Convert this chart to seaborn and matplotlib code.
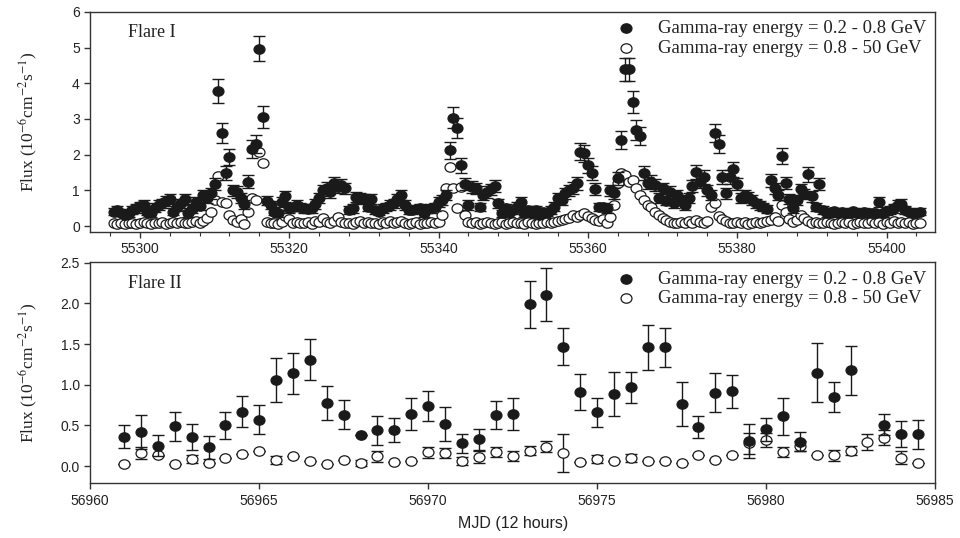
import numpy as np
import pandas as pd
import matplotlib
matplotlib.use("Agg")
import matplotlib.pyplot as plt
import seaborn as sns
from matplotlib.ticker import MultipleLocator
from matplotlib.path import Path
from matplotlib.markers import MarkerStyle

sns.set_theme(style="white")
plt.rcParams["font.family"] = ["Liberation Sans", "DejaVu Sans"]
plt.rcParams["mathtext.fontset"] = "stix"

# ---------------- data ----------------
# Flare I: 12-hour bins starting at MJD 55296.5
flare1_start = 55296.5
bin_width = 0.5
flare1_soft = [
    0.40, 0.45, 0.38, 0.31, 0.36, 0.45, 0.50, 0.56, 0.59, 0.40,
    0.36, 0.52, 0.59, 0.64, 0.70, 0.75, 0.40, 0.54, 0.64, 0.75,
    0.36, 0.47, 0.68, 0.56, 0.87, 0.78, 0.92, 1.18, 3.78, 2.61,
    1.49, 1.94, 1.00, 0.96, 0.80, 0.61, 1.24, 2.15, 2.30, 4.96,
    3.06, 0.71, 0.59, 0.40, 0.36, 0.68, 0.84, 0.50, 0.54, 0.59,
    0.54, 0.50, 0.47, 0.50, 0.62, 0.80, 1.00, 1.06, 0.96, 1.21,
    1.10, 1.15, 1.06, 0.45, 0.50, 0.82, 0.78, 0.75, 0.54, 0.75,
    0.45, 0.40, 0.50, 0.54, 0.59, 0.64, 0.75, 0.87, 0.59, 0.45,
    0.45, 0.48, 0.50, 0.36, 0.47, 0.50, 0.54, 0.68, 0.73, 0.87,
    2.13, 3.04, 2.76, 1.71, 1.19, 0.59, 1.10, 1.06, 0.54, 0.87,
    0.96, 1.03, 1.12, 0.64, 0.36, 0.50, 0.36, 0.45, 0.55, 0.68,
    0.36, 0.45, 0.36, 0.45, 0.31, 0.40, 0.38, 0.45, 0.55, 0.80,
    0.73, 0.92, 1.00, 1.08, 1.20, 2.08, 2.04, 1.71, 1.48, 1.04,
    0.54, 0.54, 0.50, 1.00, 0.92, 1.34, 2.41, 4.39, 4.39, 3.48,
    2.69, 2.52, 1.48, 1.21, 1.24, 1.15, 0.78, 1.06, 0.71, 0.96,
    0.64, 0.87, 0.73, 0.59, 0.80, 1.12, 1.52, 1.24, 1.38, 1.00,
    0.87, 2.62, 2.30, 1.38, 0.92, 1.38, 1.59, 1.18, 0.78, 0.87,
    0.82, 0.73, 0.64, 0.58, 0.54, 0.47, 1.29, 1.06, 0.87, 1.97,
    1.21, 0.75, 0.50, 0.73, 1.03, 0.90, 1.45, 0.84, 0.54, 1.18,
    0.45, 0.36, 0.40, 0.42, 0.36, 0.40, 0.38, 0.36, 0.42, 0.38,
    0.36, 0.40, 0.36, 0.38, 0.36, 0.68, 0.36, 0.42, 0.45, 0.50,
    0.59, 0.62, 0.45, 0.40, 0.36, 0.38, 0.40,
]
flare1_soft_err = [
    0.10, 0.11, 0.10, 0.09, 0.10, 0.11, 0.12, 0.13, 0.13, 0.10,
    0.10, 0.12, 0.13, 0.13, 0.14, 0.14, 0.10, 0.12, 0.13, 0.14,
    0.10, 0.11, 0.13, 0.12, 0.15, 0.14, 0.16, 0.18, 0.34, 0.27,
    0.20, 0.23, 0.16, 0.16, 0.14, 0.13, 0.18, 0.25, 0.26, 0.35,
    0.30, 0.13, 0.12, 0.10, 0.10, 0.13, 0.15, 0.12, 0.12, 0.13,
    0.12, 0.12, 0.11, 0.12, 0.13, 0.14, 0.16, 0.17, 0.16, 0.18,
    0.17, 0.17, 0.16, 0.11, 0.12, 0.15, 0.14, 0.14, 0.12, 0.14,
    0.11, 0.10, 0.12, 0.12, 0.13, 0.13, 0.14, 0.15, 0.13, 0.11,
    0.11, 0.11, 0.12, 0.10, 0.11, 0.12, 0.12, 0.13, 0.14, 0.15,
    0.24, 0.30, 0.28, 0.21, 0.17, 0.13, 0.17, 0.16, 0.12, 0.15,
    0.16, 0.16, 0.17, 0.13, 0.10, 0.12, 0.10, 0.11, 0.12, 0.13,
    0.10, 0.11, 0.10, 0.11, 0.09, 0.10, 0.10, 0.11, 0.12, 0.14,
    0.14, 0.16, 0.16, 0.17, 0.18, 0.24, 0.24, 0.21, 0.20, 0.16,
    0.12, 0.12, 0.12, 0.16, 0.16, 0.19, 0.26, 0.33, 0.33, 0.30,
    0.27, 0.26, 0.20, 0.18, 0.18, 0.17, 0.14, 0.16, 0.13, 0.16,
    0.13, 0.15, 0.14, 0.13, 0.14, 0.17, 0.20, 0.18, 0.19, 0.16,
    0.15, 0.25, 0.25, 0.19, 0.16, 0.19, 0.20, 0.18, 0.14, 0.15,
    0.15, 0.14, 0.13, 0.12, 0.12, 0.11, 0.18, 0.16, 0.15, 0.22,
    0.18, 0.14, 0.12, 0.14, 0.16, 0.15, 0.20, 0.15, 0.12, 0.18,
    0.11, 0.10, 0.10, 0.10, 0.10, 0.10, 0.10, 0.10, 0.10, 0.10,
    0.10, 0.10, 0.10, 0.10, 0.10, 0.13, 0.10, 0.10, 0.11, 0.12,
    0.13, 0.13, 0.11, 0.10, 0.10, 0.10, 0.10,
]
flare1_hard = [
    0.08, 0.06, 0.09, 0.07, 0.08, 0.10, 0.06, 0.08, 0.12, 0.09,
    0.07, 0.10, 0.08, 0.12, 0.06, 0.09, 0.11, 0.08, 0.13, 0.10,
    0.08, 0.11, 0.15, 0.10, 0.15, 0.22, 0.40, 0.73, 1.41, 0.68,
    0.64, 0.31, 0.17, 0.12, 0.21, 0.07, 0.40, 0.78, 0.73, 2.08,
    1.76, 0.12, 0.08, 0.10, 0.07, 0.12, 0.28, 0.21, 0.09, 0.12,
    0.08, 0.10, 0.12, 0.07, 0.15, 0.11, 0.24, 0.13, 0.09, 0.14,
    0.26, 0.12, 0.08, 0.10, 0.06, 0.12, 0.15, 0.09, 0.11, 0.08,
    0.10, 0.07, 0.12, 0.09, 0.14, 0.08, 0.11, 0.15, 0.10, 0.07,
    0.09, 0.12, 0.06, 0.10, 0.08, 0.13, 0.09, 0.12, 0.30, 1.06,
    1.66, 1.06, 0.50, 1.10, 0.31, 0.12, 0.08, 0.11, 0.07, 0.10,
    0.12, 0.08, 0.06, 0.10, 0.13, 0.07, 0.09, 0.12, 0.08, 0.10,
    0.07, 0.11, 0.09, 0.06, 0.10, 0.08, 0.12, 0.09, 0.11, 0.14,
    0.16, 0.20, 0.24, 0.30, 0.26, 0.32, 0.36, 0.28, 0.24, 0.18,
    0.15, 0.20, 0.10, 0.25, 0.60, 1.20, 1.48, 1.43, 1.24, 1.30,
    1.06, 0.87, 0.73, 0.60, 0.54, 0.40, 0.30, 0.22, 0.18, 0.12,
    0.10, 0.08, 0.12, 0.09, 0.14, 0.10, 0.16, 0.12, 0.10, 0.15,
    0.54, 0.65, 0.28, 0.20, 0.15, 0.10, 0.08, 0.12, 0.09, 0.11,
    0.07, 0.10, 0.13, 0.08, 0.12, 0.15, 0.18, 0.25, 0.15, 0.59,
    0.40, 0.20, 0.12, 0.18, 0.31, 0.22, 0.15, 0.08, 0.12, 0.10,
    0.08, 0.12, 0.09, 0.06, 0.10, 0.13, 0.08, 0.11, 0.07, 0.10,
    0.12, 0.08, 0.10, 0.14, 0.09, 0.11, 0.07, 0.12, 0.10, 0.15,
    0.09, 0.13, 0.08, 0.11, 0.07, 0.10, 0.08,
]

# Flare II: 12-hour bins starting at MJD 56961.0
flare2_start = 56961.0
flare2_soft = [
    0.36, 0.42, 0.25, 0.49, 0.36, 0.23, 0.50, 0.67, 0.57, 1.06,
    1.14, 1.31, 0.78, 0.63, 0.38, 0.44, 0.44, 0.64, 0.74, 0.52,
    0.28, 0.33, 0.63, 0.64, 1.99, 2.11, 1.47, 0.91, 0.66, 0.89,
    0.97, 1.46, 1.46, 0.76, 0.48, 0.90, 0.92, 0.31, 0.45, 0.61,
    0.30, 1.15, 0.85, 1.18, np.nan, 0.51, 0.40, 0.39,
]
flare2_soft_err = [
    0.14, 0.21, 0.13, 0.18, 0.16, 0.14, 0.17, 0.19, 0.18, 0.27,
    0.25, 0.25, 0.21, 0.18, 0.00, 0.18, 0.15, 0.20, 0.18, 0.21,
    0.12, 0.13, 0.17, 0.20, 0.29, 0.33, 0.23, 0.22, 0.18, 0.27,
    0.19, 0.28, 0.24, 0.27, 0.14, 0.24, 0.20, 0.21, 0.14, 0.23,
    0.12, 0.36, 0.18, 0.30, np.nan, 0.13, 0.16, 0.18,
]
flare2_hard = [
    0.03, 0.16, 0.14, 0.03, 0.09, 0.04, 0.10, 0.15, 0.18, 0.07,
    0.12, 0.06, 0.03, 0.08, 0.04, 0.12, 0.05, 0.06, 0.17, 0.16,
    0.06, 0.11, 0.17, 0.12, 0.19, 0.24, 0.16, 0.05, 0.09, 0.06,
    0.10, 0.06, 0.06, 0.04, 0.13, 0.08, 0.13, 0.28, 0.32, 0.17,
    0.25, 0.13, 0.13, 0.19, 0.30, 0.35, 0.10, 0.04,
]
flare2_hard_err = [
    0.00, 0.07, 0.00, 0.00, 0.05, 0.00, 0.00, 0.00, 0.00, 0.05,
    0.00, 0.00, 0.00, 0.00, 0.04, 0.07, 0.00, 0.00, 0.07, 0.06,
    0.05, 0.07, 0.06, 0.06, 0.06, 0.07, 0.23, 0.00, 0.05, 0.00,
    0.05, 0.00, 0.00, 0.00, 0.00, 0.00, 0.00, 0.13, 0.09, 0.06,
    0.06, 0.00, 0.07, 0.06, 0.10, 0.09, 0.08, 0.00,
]

label_soft = "Gamma-ray energy = 0.2 - 0.8 GeV"
label_hard = "Gamma-ray energy = 0.8 - 50 GeV"
ylabel = r"Flux (10$^{-6}$cm$^{-2}$s$^{-1}$)"
xlabel = "MJD (12 hours)"
panel_titles = ["Flare I", "Flare II"]

# ---------------- frames ----------------
t1 = flare1_start + bin_width * np.arange(len(flare1_soft))
t2 = flare2_start + bin_width * np.arange(len(flare2_soft))
df1 = pd.DataFrame({"mjd": t1, "soft": flare1_soft, "soft_err": flare1_soft_err,
                    "hard": flare1_hard})
df2 = pd.DataFrame({"mjd": t2, "soft": flare2_soft, "soft_err": flare2_soft_err,
                    "hard": flare2_hard, "hard_err": flare2_hard_err})

# slightly wide (elliptical) marker, as in the reference
_ell = Path.unit_circle().transformed(matplotlib.transforms.Affine2D().scale(1.0, 0.86))
ELL = MarkerStyle(_ell)

# ---------------- figure ----------------
fig = plt.figure(figsize=(9.6, 5.38), dpi=100)
ax1 = fig.add_axes([0.094, 0.569, 0.880, 0.409])
ax2 = fig.add_axes([0.094, 0.102, 0.880, 0.411])

serif = ["Liberation Serif", "DejaVu Serif"]
ink = "#1a1a1a"
MS = 62


def draw(ax, df, hard_err=None):
    if hard_err is not None:
        ax.errorbar(df["mjd"], df["hard"], yerr=df[hard_err], fmt="none",
                    ecolor=ink, elinewidth=1.0, capsize=4.5, capthick=1.0, zorder=2)
    sns.scatterplot(data=df, x="mjd", y="hard", ax=ax, color="white", marker=ELL,
                    edgecolor=ink, linewidth=0.9, s=MS, label=label_hard, zorder=3)
    ax.errorbar(df["mjd"], df["soft"], yerr=df["soft_err"], fmt="none",
                ecolor=ink, elinewidth=1.0, capsize=4.5, capthick=1.0, zorder=4)
    sns.scatterplot(data=df, x="mjd", y="soft", ax=ax, color=ink, marker=ELL,
                    edgecolor=ink, linewidth=0.9, s=MS, label=label_soft, zorder=5)


draw(ax1, df1)
draw(ax2, df2, hard_err="hard_err")

ax1.set_xlim(55293.35, 55406.5)
ax1.set_ylim(-0.16, 6.0)
ax1.xaxis.set_major_locator(MultipleLocator(20))
ax1.xaxis.set_minor_locator(MultipleLocator(4))
ax1.yaxis.set_major_locator(MultipleLocator(1))

ax2.set_xlim(56960, 56985)
ax2.set_ylim(-0.21, 2.51)
ax2.xaxis.set_major_locator(MultipleLocator(5))
ax2.yaxis.set_major_locator(MultipleLocator(0.5))
ax2.yaxis.set_major_formatter(matplotlib.ticker.FormatStrFormatter("%.1f"))

for ax, title in zip([ax1, ax2], panel_titles):
    for sp in ax.spines.values():
        sp.set_visible(True)
        sp.set_color("#333333")
        sp.set_linewidth(1.0)
    ax.tick_params(axis="both", which="major", direction="out", length=4,
                   width=1.0, color="#333333", labelsize=10, labelcolor="#222222",
                   bottom=True, left=True)
    ax.tick_params(axis="x", which="minor", direction="out", length=3,
                   width=0.8, color="#333333", bottom=True)
    ax.set_xlabel("")
    ax.set_ylabel(ylabel, family=serif, fontsize=12.5, color="#222222")
    ax.yaxis.set_label_coords(-0.06, 0.5)
    ax.text(0.045, 0.905, title, transform=ax.transAxes, family=serif,
            fontsize=13, color="#222222", va="center", ha="left")
    handles, labels = ax.get_legend_handles_labels()
    order = [labels.index(label_soft), labels.index(label_hard)]
    ax.legend([handles[i] for i in order], [labels[i] for i in order],
              loc="upper right", frameon=False, prop={"family": serif, "size": 13.5},
              handletextpad=0.75, borderaxespad=0.25, labelspacing=0.12,
              borderpad=0.2, labelcolor="#222222")

ax2.set_xlabel(xlabel, fontsize=11.5, color="#222222", labelpad=6)

fig.savefig("out.png", dpi=100)
